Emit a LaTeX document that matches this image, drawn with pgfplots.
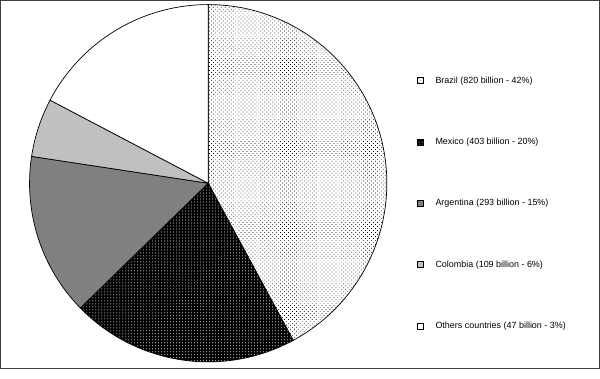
\documentclass[border=0pt]{standalone}
\usepackage{fontspec}
\setmainfont{Liberation Sans}
\usepackage{pgfplots}
\pgfplotsset{compat=1.18}
\usepackage{pgfplotstable}
\usetikzlibrary{patterns.meta}
\definecolor{framec}{HTML}{404040}
\definecolor{argc}{HTML}{808080}
\definecolor{colc}{HTML}{C0C0C0}
\pgfplotstableread{
id pct
0 42.1
1 20.6
2 14.7
3 5.3
4 17.3
}\piedata
\tikzset{
 s0/.style={pattern={Dots[distance=2.8bp,angle=45,radius=0.5bp]}, pattern color=black},
 s1/.style={preaction={fill=black}, pattern={Dots[distance=3bp,radius=0.5bp]}, pattern color=white},
 s2/.style={fill=argc},
 s3/.style={fill=colc},
 s4/.style={fill=white},
}
\begin{document}
\begin{tikzpicture}
\begin{axis}[
  width=600bp, height=369bp, scale only axis,
  xmin=0, xmax=600, ymin=0, ymax=369,
  xtick=\empty, ytick=\empty,
  axis line style={draw=framec, line width=1.2bp},
  clip=false,
  legend image code/.code={\path[#1,draw=black,line width=0.6bp] (0bp,-3bp) rectangle (6bp,3bp);},
  legend cell align=left,
  legend style={at={(axis cs:417,295)}, anchor=north west, draw=none, fill=none,
    inner xsep=0pt, inner ysep=0pt, row sep=49.5bp,
    font=\fontsize{9}{10}\selectfont,
    /tikz/every odd column/.append style={column sep=10bp}},
]
\def\cum{0}
\pgfplotsforeachungrouped \i in {0,...,4}{%
  \pgfplotstablegetelem{\i}{pct}\of\piedata
  \let\sv\pgfplotsretval
  \pgfmathsetmacro\sa{90-3.6*\cum}%
  \pgfmathsetmacro\sb{90-3.6*(\cum+\sv)}%
  \edef\cmd{\noexpand\path[s\i,draw=black,line width=0.7bp] (axis cs:208,186) -- ++(\sa:179bp) arc[start angle=\sa,end angle=\sb,radius=179bp] -- cycle;}%
  \cmd
  \pgfmathsetmacro\cum{\cum+\sv}%
}
\addlegendimage{s0}\addlegendentry{Brazil (820 billion - 42\%)}
\addlegendimage{s1}\addlegendentry{Mexico (403 billion - 20\%)}
\addlegendimage{s2}\addlegendentry{Argentina (293 billion - 15\%)}
\addlegendimage{s3}\addlegendentry{Colombia (109 billion - 6\%)}
\addlegendimage{s4}\addlegendentry{Others countries (47 billion - 3\%)}
\end{axis}
\end{tikzpicture}
\end{document}
